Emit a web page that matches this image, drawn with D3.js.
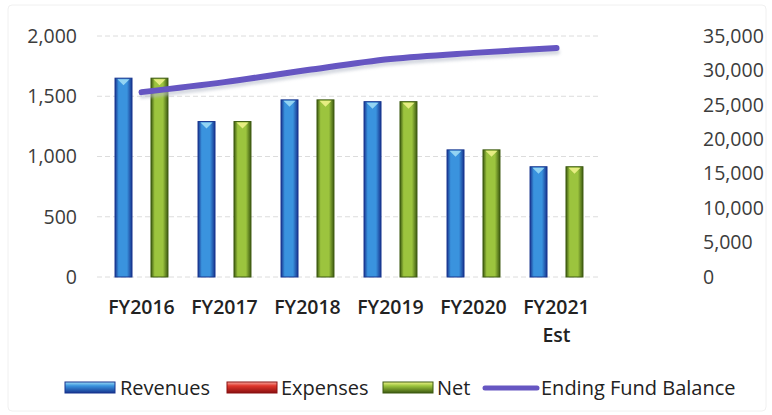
<!DOCTYPE html>
<html>
<head>
<meta charset="utf-8">
<script src="https://cdn.jsdelivr.net/npm/d3@7/dist/d3.min.js"></script>
<style>
  html, body { margin: 0; padding: 0; background: #fff; }
  svg { display: block; font-family: "Open Sans", "Liberation Sans", sans-serif; }
</style>
</head>
<body>
<svg id="chart" width="772" height="415"></svg>
<script>
// Fund summary by fiscal year
const categories = ["FY2016", "FY2017", "FY2018", "FY2019", "FY2020", "FY2021 Est"];
const revenues = [1650, 1290, 1470, 1455, 1055, 915];
const expenses = [0, 0, 0, 0, 0, 0];
const net = [1650, 1290, 1470, 1455, 1055, 915];
const endingFundBalance = [26850, 28300, 30050, 31650, 32550, 33250];

const leftTicks = [0, 500, 1000, 1500, 2000];
const rightTicks = [0, 5000, 10000, 15000, 20000, 25000, 30000, 35000];

const barSeries = [
  { name: "Revenues", values: revenues, edge: "#17358f", mid: "#3a93de", tip: "#9ddcf5" },
  { name: "Expenses", values: expenses, edge: "#8a1010", mid: "#e0372c", tip: "#f7a9a0" },
  { name: "Net", values: net, edge: "#3d5a10", mid: "#9cc43e", tip: "#eef28a" }
];
const lineColor = "#6656c2";

const svg = d3.select("#chart");
const fmt = d3.format(",");

const plot = { left: 100, right: 598, top: 36, bottom: 277 };

const x = d3.scaleBand()
  .domain(categories)
  .range([plot.left, plot.right])
  .paddingInner(0.35)
  .paddingOuter(0.175);

const xSeries = d3.scaleBand()
  .domain(barSeries.map(s => s.name))
  .range([0, x.bandwidth()]);

const yLeft = d3.scaleLinear().domain([0, 2000]).range([plot.bottom, plot.top]);
const yRight = d3.scaleLinear().domain([0, 35000]).range([plot.bottom, plot.top]);

// gradients
const defs = svg.append("defs");
barSeries.forEach((s, i) => {
  const g = defs.append("linearGradient")
    .attr("id", "grad" + i)
    .attr("x1", "0%").attr("x2", "100%").attr("y1", "0%").attr("y2", "0%");
  g.append("stop").attr("offset", "0%").attr("stop-color", s.edge);
  g.append("stop").attr("offset", "22%").attr("stop-color", s.mid);
  g.append("stop").attr("offset", "70%").attr("stop-color", s.mid);
  g.append("stop").attr("offset", "100%").attr("stop-color", s.edge);
});
defs.append("filter").attr("id", "soft")
  .append("feGaussianBlur").attr("stdDeviation", 1.6);

// faint frame
svg.append("rect")
  .attr("x", 8).attr("y", 5).attr("width", 758).attr("height", 406)
  .attr("rx", 4)
  .attr("fill", "none").attr("stroke", "#f0f0f0").attr("stroke-width", 1);

// gridlines
svg.append("g")
  .selectAll("line")
  .data(leftTicks)
  .join("line")
  .attr("x1", plot.left - 3).attr("x2", plot.right + 2)
  .attr("y1", d => yLeft(d)).attr("y2", d => yLeft(d))
  .attr("stroke", "#dcdcdc").attr("stroke-width", 1)
  .attr("stroke-dasharray", "5,3");

// left axis
const leftAxis = svg.append("g")
  .attr("transform", `translate(${plot.left - 23},0)`)
  .call(d3.axisLeft(yLeft).tickValues(leftTicks).tickFormat(fmt).tickSize(0).tickPadding(0));
leftAxis.select(".domain").remove();
leftAxis.selectAll("text")
  .attr("font-size", 19.5).attr("fill", "#3c3c3c")
  .attr("font-family", "'Open Sans', sans-serif");

// right axis
const rightAxis = svg.append("g")
  .attr("transform", `translate(703,0)`)
  .call(d3.axisRight(yRight).tickValues(rightTicks).tickFormat(fmt).tickSize(0).tickPadding(0));
rightAxis.select(".domain").remove();
rightAxis.selectAll("text")
  .attr("font-size", 19.5).attr("fill", "#3c3c3c")
  .attr("font-family", "'Open Sans', sans-serif");

// bars
const barW = xSeries.bandwidth();
barSeries.forEach((s, i) => {
  const g = svg.append("g");
  const data = categories.map((c, j) => ({ c, v: s.values[j] })).filter(d => d.v > 0);
  g.selectAll("rect")
    .data(data)
    .join("rect")
    .attr("x", d => x(d.c) + xSeries(s.name) + 0.5)
    .attr("y", d => yLeft(d.v))
    .attr("width", barW - 1)
    .attr("height", d => yLeft(0) - yLeft(d.v))
    .attr("fill", `url(#grad${i})`)
    .attr("stroke", s.edge).attr("stroke-width", 1);
  g.selectAll("path")
    .data(data)
    .join("path")
    .attr("d", d => {
      const x0 = x(d.c) + xSeries(s.name) + 0.5;
      const t = yLeft(d.v) + 1;
      return `M${x0 + 2.5},${t} L${x0 + barW - 3.5},${t} L${x0 + (barW - 1) / 2},${t + 6} Z`;
    })
    .attr("fill", s.tip).attr("opacity", 0.9);
});

// ending fund balance line (with a soft shadow)
const lineGen = d3.line()
  .x((d, j) => x(categories[j]) + x.bandwidth() / 2)
  .y(d => yRight(d))
  .curve(d3.curveMonotoneX);

svg.append("path")
  .datum(endingFundBalance)
  .attr("d", lineGen)
  .attr("transform", "translate(1,4)")
  .attr("fill", "none")
  .attr("stroke", "#b9bfcc").attr("stroke-width", 5)
  .attr("stroke-linecap", "round").attr("opacity", 0.6)
  .attr("filter", "url(#soft)");

svg.append("path")
  .datum(endingFundBalance)
  .attr("d", lineGen)
  .attr("fill", "none")
  .attr("stroke", lineColor).attr("stroke-width", 6)
  .attr("stroke-linecap", "round").attr("stroke-linejoin", "round");

// category labels
const xLabels = svg.append("g");
categories.forEach(c => {
  const parts = c.split(" ");
  const t = xLabels.append("text")
    .attr("x", x(c) + x.bandwidth() / 2)
    .attr("y", 314)
    .attr("text-anchor", "middle")
    .attr("font-size", 19.5)
    .attr("font-weight", 600)
    .attr("fill", "#222");
  parts.forEach((p, k) => {
    t.append("tspan")
      .attr("x", x(c) + x.bandwidth() / 2)
      .attr("dy", k === 0 ? 0 : 28)
      .text(p);
  });
});

// legend
const legendY = 388;
const legendItems = [
  { name: "Revenues", type: "bar", s: barSeries[0], i: 0, x0: 65, w: 50, tx: 120 },
  { name: "Expenses", type: "bar", s: barSeries[1], i: 1, x0: 227, w: 50, tx: 281 },
  { name: "Net", type: "bar", s: barSeries[2], i: 2, x0: 383, w: 50, tx: 437 },
  { name: "Ending Fund Balance", type: "line", x0: 485, w: 52, tx: 541 }
];
const legend = svg.append("g");
legendItems.forEach(it => {
  if (it.type === "bar") {
    const sg = defs.append("linearGradient")
      .attr("id", "lg" + it.i)
      .attr("x1", "0%").attr("x2", "0%").attr("y1", "0%").attr("y2", "100%");
    sg.append("stop").attr("offset", "0%").attr("stop-color", it.s.tip);
    sg.append("stop").attr("offset", "35%").attr("stop-color", it.s.mid);
    sg.append("stop").attr("offset", "100%").attr("stop-color", it.s.edge);
    legend.append("rect")
      .attr("x", it.x0).attr("y", legendY - 6)
      .attr("width", it.w).attr("height", 11)
      .attr("fill", `url(#lg${it.i})`)
      .attr("stroke", it.s.edge).attr("stroke-width", 1);
  } else {
    legend.append("line")
      .attr("x1", it.x0).attr("x2", it.x0 + it.w)
      .attr("y1", legendY).attr("y2", legendY)
      .attr("stroke", lineColor).attr("stroke-width", 5)
      .attr("stroke-linecap", "round");
  }
  legend.append("text")
    .attr("x", it.tx).attr("y", legendY)
    .attr("dy", "0.35em")
    .attr("font-size", 20)
    .attr("font-weight", 500)
    .attr("fill", "#222")
    .text(it.name);
});
</script>
</body>
</html>
